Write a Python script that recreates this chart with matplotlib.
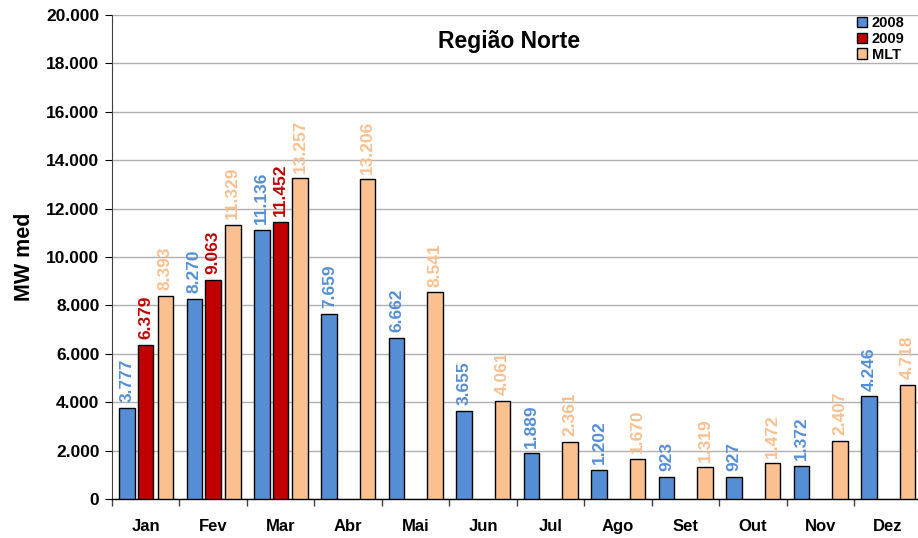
import numpy as np
import matplotlib.pyplot as plt
from matplotlib.patches import Patch
from matplotlib.ticker import MultipleLocator, FuncFormatter

plt.rcParams['font.family'] = ['Liberation Sans', 'DejaVu Sans']

# dados (MW med)
meses = ['Jan', 'Fev', 'Mar', 'Abr', 'Mai', 'Jun', 'Jul', 'Ago', 'Set', 'Out', 'Nov', 'Dez']
v2008 = [3777, 8270, 11136, 7659, 6662, 3655, 1889, 1202, 923, 927, 1372, 4246]
v2009 = [6379, 9063, 11452, np.nan, np.nan, np.nan, np.nan, np.nan, np.nan, np.nan, np.nan, np.nan]
vmlt = [8393, 11329, 13257, 13206, 8541, 4061, 2361, 1670, 1319, 1472, 2407, 4718]

cores = {'2008': '#558ED5', '2009': '#C00000', 'MLT': '#FAC090'}


def fmt_br(v, pos=None):
    return f'{int(round(v)):,}'.replace(',', '.')


fig = plt.figure(figsize=(9.18, 5.38), dpi=100)
ax = fig.add_axes([0.122, 0.0725, 0.882, 0.8995])

x = np.arange(len(meses))
w = 0.23
series = [('2008', v2008, -0.28, 'bold'), ('2009', v2009, 0.0, 'bold'), ('MLT', vmlt, 0.29, 'semibold')]

for nome, vals, off, peso in series:
    vals = np.array(vals, dtype=float)
    ax.bar(x + off, vals, width=w, color=cores[nome], edgecolor='black', linewidth=1, zorder=3)
    for xi, v in zip(x + off, vals):
        if np.isnan(v):
            continue
        ax.text(xi, v + 230, fmt_br(v), rotation=90, ha='center', va='bottom',
                color=cores[nome], fontsize=12.5, fontweight=peso, zorder=4)

ax.set_xlim(-0.5, 11.5)
ax.set_ylim(0, 20000)
ax.yaxis.set_major_locator(MultipleLocator(2000))
ax.yaxis.set_major_formatter(FuncFormatter(fmt_br))
ax.grid(axis='y', color='#B0B0B0', linewidth=1, zorder=0)
ax.set_axisbelow(True)

# ticks do eixo x entre os meses
ax.set_xticks(np.arange(-0.5, 12, 1))
ax.set_xticklabels([])
ax.set_xticks(x, minor=True)
ax.set_xticklabels(meses, minor=True)
ax.tick_params(axis='x', which='major', length=5, direction='out', width=1, color='#404040')
ax.tick_params(axis='x', which='minor', length=0, pad=14.5, labelsize=12)
ax.tick_params(axis='y', length=5, direction='out', labelsize=12.5, pad=4)
for lab in ax.get_xticklabels(minor=True) + ax.get_yticklabels():
    lab.set_fontweight('bold')

for s in ['top', 'right']:
    ax.spines[s].set_visible(False)
ax.spines['left'].set_color('#404040')
ax.spines['bottom'].set_linewidth(1)

ax.set_ylabel('MW med', fontsize=15.5, fontweight='bold', labelpad=8)
ax.text(0.49, 0.945, 'Região Norte', transform=ax.transAxes, ha='center', va='center',
        fontsize=16.5, fontweight='bold')

handles = [Patch(facecolor=cores[k], edgecolor='black', label=k) for k in ['2008', '2009', 'MLT']]
leg = ax.legend(handles=handles, loc='upper right', bbox_to_anchor=(0.995, 1.025), frameon=False,
                handlelength=0.7, handleheight=0.7, handletextpad=0.3, labelspacing=0.12,
                prop={'size': 10.5, 'weight': 'bold'})

plt.savefig('out.png', dpi=100)
